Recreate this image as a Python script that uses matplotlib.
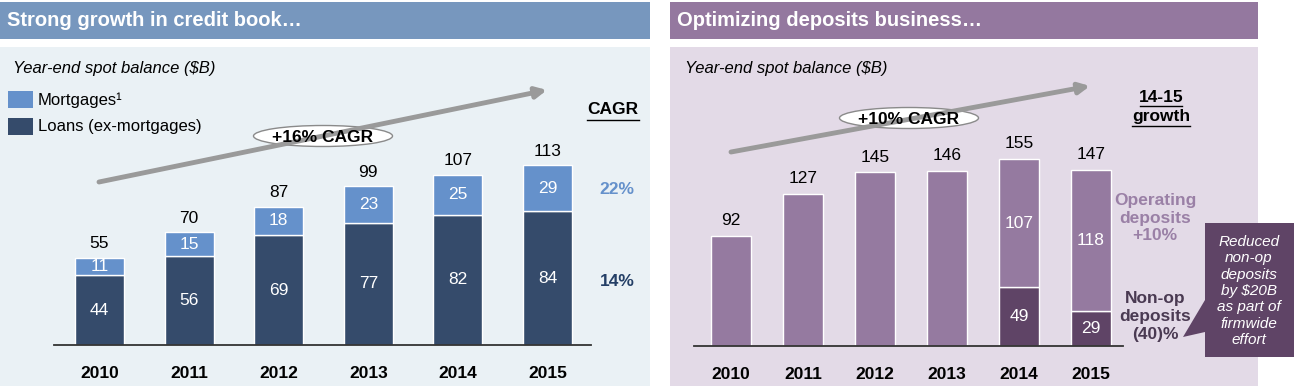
import matplotlib
matplotlib.use("Agg")
import matplotlib.pyplot as plt
from matplotlib.patches import Rectangle, Ellipse, Polygon
import numpy as np

plt.rcParams['font.family'] = ['Liberation Sans', 'DejaVu Sans']

# ---- data ----
years = ['2010', '2011', '2012', '2013', '2014', '2015']
loans = [44, 56, 69, 77, 82, 84]
mortgages = [11, 15, 18, 23, 25, 29]
credit_total = [55, 70, 87, 99, 107, 113]

deposits_total = [92, 127, 145, 146, 155, 147]
non_op = [0, 0, 0, 0, 49, 29]
operating = [92, 127, 145, 146, 107, 118]

# ---- colours ----
c_loans = '#354B6B'
c_mort = '#6591CB'
c_head_l = '#7797BE'
c_bg_l = '#EAF1F5'
c_op = '#957AA0'
c_nonop = '#5F4466'
c_head_r = '#94789F'
c_bg_r = '#E3DAE7'

W, H = 1294, 386
fig = plt.figure(figsize=(W / 100, H / 100), dpi=100)

# background layer in pixel coordinates
bg = fig.add_axes([0, 0, 1, 1])
bg.set_xlim(0, W)
bg.set_ylim(H, 0)
bg.axis('off')

bg.add_patch(Rectangle((0, 2), 650, 37, color=c_head_l, lw=0))
bg.add_patch(Rectangle((0, 47), 650, H - 47, color=c_bg_l, lw=0))
bg.add_patch(Rectangle((670, 2), 588, 37, color=c_head_r, lw=0))
bg.add_patch(Rectangle((670, 47), 588, H - 47, color=c_bg_r, lw=0))

bg.text(7, 21, 'Strong growth in credit book…', color='white', fontsize=14.5,
        fontweight='bold', va='center', ha='left')
bg.text(677, 21, 'Optimizing deposits business…', color='white', fontsize=14.5,
        fontweight='bold', va='center', ha='left')

bg.text(13, 68, 'Year-end spot balance ($B)', fontsize=12, style='italic', va='center')
bg.text(685, 68, 'Year-end spot balance ($B)', fontsize=12, style='italic', va='center')

# legend
bg.add_patch(Rectangle((8, 91), 25, 17, color=c_mort, lw=0))
bg.add_patch(Rectangle((8, 118), 25, 17, color=c_loans, lw=0))
bg.text(38, 100, 'Mortgages¹', fontsize=12, va='center')
bg.text(38, 127, 'Loans (ex-mortgages)', fontsize=12, va='center')

# CAGR column
bg.text(613, 110, 'CAGR', fontsize=12.5, fontweight='bold', ha='center', va='center')
bg.plot([587, 639], [120, 120], color='black', lw=1)
bg.text(617, 189, '22%', fontsize=12.5, fontweight='bold', ha='center', va='center', color=c_mort)
bg.text(617, 282, '14%', fontsize=12.5, fontweight='bold', ha='center', va='center', color='#243F66')

bg.text(1161, 97, '14-15', fontsize=12.5, fontweight='bold', ha='center', va='center')
bg.plot([1140, 1182], [106, 106], color='black', lw=1)
bg.text(1161, 117, 'growth', fontsize=12.5, fontweight='bold', ha='center', va='center')
bg.plot([1132, 1190], [126, 126], color='black', lw=1)

bg.text(1155, 218, 'Operating\ndeposits\n+10%', fontsize=12.5, fontweight='bold',
        ha='center', va='center', color='#9A80A6', linespacing=1.25)
bg.text(1155, 316, 'Non-op\ndeposits\n(40)%', fontsize=12.5, fontweight='bold',
        ha='center', va='center', color='#4A3A52', linespacing=1.25)

# callout
bg.add_patch(Polygon([(1205, 223), (1294, 223), (1294, 357), (1205, 357),
                      (1205, 332), (1183, 337), (1205, 300)],
                     closed=True, color=c_nonop, lw=0))
bg.text(1249, 291, 'Reduced\nnon-op\ndeposits\nby $20B\nas part of\nfirmwide\neffort',
        fontsize=11, style='italic', color='white', ha='center', va='center',
        linespacing=1.22)

# trend arrows with ellipse labels
for (x0, y0, x1, y1, ex, ey, txt) in [(99, 182, 547, 90, 323, 136, '+16% CAGR'),
                                      (731, 152, 1090, 86, 909, 118, '+10% CAGR')]:
    bg.annotate('', xy=(x1, y1), xytext=(x0, y0),
                arrowprops=dict(arrowstyle='-|>', color='#9A9A9A', lw=3.5,
                                mutation_scale=16, shrinkA=0, shrinkB=0))
    bg.add_patch(Ellipse((ex, ey), 139, 21, facecolor='white', edgecolor='#8A8A8A', lw=1))
    bg.text(ex, ey + 1, txt, fontsize=12.5, fontweight='bold', ha='center', va='center')


def px_axes(x0, x1, ybase, ytop):
    return fig.add_axes([x0 / W, (H - ybase) / H, (x1 - x0) / W, (ybase - ytop) / H])


def style_axes(ax):
    ax.patch.set_alpha(0)
    for s in ['top', 'right', 'left']:
        ax.spines[s].set_visible(False)
    ax.spines['bottom'].set_color('#333333')
    ax.spines['bottom'].set_linewidth(1.3)
    ax.set_yticks([])
    ax.tick_params(axis='x', length=0, pad=15)
    for lab in ax.get_xticklabels():
        lab.set_fontweight('bold')
        lab.set_fontsize(12.5)


# ---- left chart ----
x = np.arange(len(years))
axl = px_axes(54, 591, 345, 47)
axl.set_xlim(-0.508, 5.486)
axl.set_ylim(0, 298 / 1.59)
b1 = axl.bar(x, loans, 0.547, color=c_loans, edgecolor='white', lw=1)
b2 = axl.bar(x, mortgages, 0.547, bottom=loans, color=c_mort, edgecolor='white', lw=1)
axl.bar_label(b1, label_type='center', color='white', fontsize=12.5)
axl.bar_label(b2, label_type='center', color='white', fontsize=12.5)
tops = np.array(loans) + np.array(mortgages)
for xi, t, lab in zip(x, tops, credit_total):
    axl.annotate(str(lab), (xi, t), xytext=(0, 10), textcoords='offset points',
                 ha='center', va='center', fontsize=12.5)
axl.set_xticks(x, years)
style_axes(axl)

# ---- right chart ----
axr = px_axes(694, 1123, 346, 47)
axr.set_xlim(-0.514, 5.444)
axr.set_ylim(0, 299 / 1.197)
r1 = axr.bar(x, non_op, 0.556, color=c_nonop, edgecolor='white', lw=1)
r2 = axr.bar(x, operating, 0.556, bottom=non_op, color=c_op, edgecolor='white', lw=1)
for xi in x[4:]:
    axr.text(xi, non_op[xi] / 2, str(non_op[xi]), ha='center', va='center',
             color='white', fontsize=12.5)
    axr.text(xi, non_op[xi] + operating[xi] / 2, str(operating[xi]), ha='center',
             va='center', color='white', fontsize=12.5)
rtops = np.array(non_op) + np.array(operating)
for xi, t, lab in zip(x, rtops, deposits_total):
    axr.annotate(str(lab), (xi, t), xytext=(0, 11), textcoords='offset points',
                 ha='center', va='center', fontsize=12.5)
axr.set_xticks(x, years)
style_axes(axr)

fig.savefig('out.png', dpi=100)
